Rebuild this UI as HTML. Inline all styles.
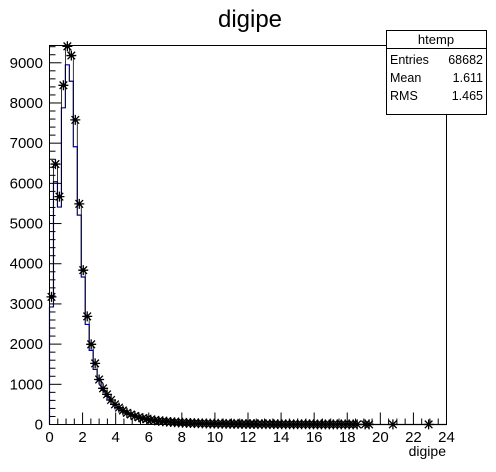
<!DOCTYPE html>
<html><head><meta charset="utf-8"><style>
body{margin:0;background:#fff;font-family:"Liberation Sans",Arial,sans-serif}
svg{display:block}
</style></head><body>
<svg id="chart" width="496" height="472" xmlns="http://www.w3.org/2000/svg">
<text x="250" y="27" font-size="24" text-anchor="middle" font-family="Liberation Sans">digipe</text>
<g id="plot"></g>
<g>
<rect x="386.5" y="30.5" width="100" height="84" fill="#fff" stroke="#000"/>
<line x1="386.5" y1="48.5" x2="486.5" y2="48.5" stroke="#000"/>
<text x="436" y="44" font-size="13" text-anchor="middle">htemp</text>
<text x="390" y="64" font-size="12.5">Entries</text><text x="483" y="64" font-size="12.5" text-anchor="end">68682</text>
<text x="390" y="82" font-size="12.5">Mean</text><text x="483" y="82" font-size="12.5" text-anchor="end">1.611</text>
<text x="390" y="100" font-size="12.5">RMS</text><text x="483" y="100" font-size="12.5" text-anchor="end">1.465</text>
</g>
<text x="446" y="456" font-size="14" text-anchor="end">digipe</text>
</svg>
<script>
const binWidth = 0.24;
const starCounts = [3175,6480,5670,8440,9410,9180,7580,5490,3840,2690,1995,1520,1120,
 900,750,610,500,420,350,290,250,210,180,155,135,118,103,90,80,70,62,55,50,45,40,36,33,30,27,25,
 23,21,19,18,17,16,15,14,13,12,11,11,10,10,9,9,8,8,7,7,7,6,6,6,5,5,5,4,4,4,4,3,3,3,3,3,2,2,
 0,2,2,0,0,0,0,0,2,0,0,0,0,0,0,0,0,2,0,0,0,0];
const blueCounts = [2925,6040,5410,7880,8950,8540,6910,5210,3670,2490,1845,1370,1100,
 850,700,570,470,395,330,275,235,200,170,148,128,112,98,86,76,67,59,53,48,43,38,34,31,28,26,24,
 22,20,18,17,16,15,14,13,12,11,10,10,9,9,8,8,7,7,7,6,6,6,5,5,5,4,4,4,4,3,3,3,3,3,2,2,2,2,
 0,2,2,0,0,0,0,0,2,0,0,0,0,0,0,0,0,2,0,0,0,0];
const xTicks = [0,2,4,6,8,10,12,14,16,18,20,22,24];
const yTicks = [0,1000,2000,3000,4000,5000,6000,7000,8000,9000];
const L=49.5,R=446.5,T=45.5,B=424.5,XMAX=24,YMAX=9430;
const sx=v=>L+(v/XMAX)*(R-L), sy=v=>B-(v/YMAX)*(B-T);
const NS="http://www.w3.org/2000/svg";
const g=document.getElementById('plot');
function mk(t,a){const e=document.createElementNS(NS,t);for(const k in a)e.setAttribute(k,a[k]);g.appendChild(e);return e;}
let d=`M${sx(0)},${sy(0)}`;
blueCounts.forEach((v,i)=>{d+=` L${sx(i*binWidth)},${sy(v)} L${sx((i+1)*binWidth)},${sy(v)}`;});
const step=mk('path',{d:d,fill:'none',stroke:'#000099','stroke-width':1.2});


let d2=`M${sx(0)},${sy(0)}`;
starCounts.forEach((v,i)=>{if(i<13)d2+=` L${sx(i*binWidth)},${sy(v)} L${sx((i+1)*binWidth)},${sy(v)}`;});
mk('path',{d:d2,fill:'none',stroke:'#000','stroke-width':0.8});
starCounts.forEach((v,i)=>{
 if(v<=0)return;
 const cx=sx((i+0.5)*binWidth),cy=sy(v),r=5,q=3.8;
 const s=mk('path',{d:`M${cx-r},${cy}H${cx+r}M${cx},${cy-r}V${cy+r}M${cx-q},${cy-q}L${cx+q},${cy+q}M${cx-q},${cy+q}L${cx+q},${cy-q}`,stroke:'#000','stroke-width':1.3});
 
 
});
const fr=mk('rect',{x:L,y:T,width:R-L,height:B-T,fill:'none',stroke:'#000'});


for(let v=0;v<=24;v+=0.5){const x=sx(v);mk('line',{x1:x,y1:B,x2:x,y2:B-(v%2===0?12:6),stroke:'#000'});}
xTicks.forEach(v=>{const t=mk('text',{x:sx(v),y:442,'font-size':15,'text-anchor':'middle'});t.textContent=v;
 
 });
for(let v=0;v<=9400;v+=200){const y=sy(v);mk('line',{x1:L,y1:y,x2:L+(v%1000===0?12:6),y2:y,stroke:'#000'});}
yTicks.forEach(v=>{const t=mk('text',{x:43,y:sy(v)+5,'font-size':15,'text-anchor':'end'});t.textContent=v;
 
 });
</script>
</body></html>
